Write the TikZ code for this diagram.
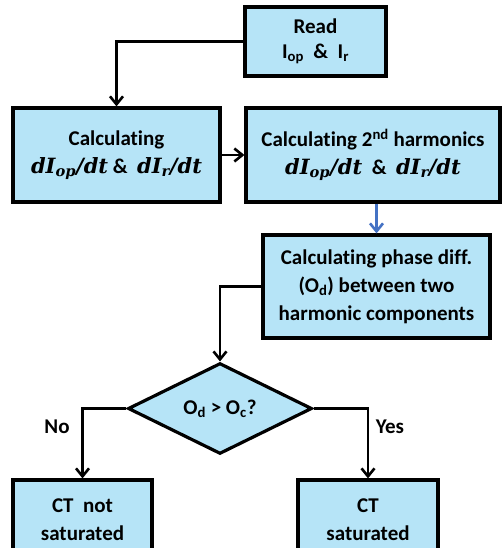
\documentclass[tikz,border=0pt]{standalone}
\usepackage{fontspec}
\setmainfont{Carlito}[Ligatures=NoCommon]
\newfontfamily\mfont{DejaVu Serif}
\usetikzlibrary{shapes.geometric,arrows.meta}
\definecolor{boxfill}{RGB}{182,228,247}
\definecolor{bluearrow}{RGB}{68,114,196}
\newcommand{\bigmath}[1]{{\fontsize{21}{28}\mfont\bfseries\itshape #1}}
\tikzset{
  stepbox/.style={draw=black, line width=3.2pt, fill=boxfill, align=center, inner sep=2pt,
    font=\fontsize{21}{28}\selectfont\bfseries},
  decision/.style={draw=black, line width=3.2pt, fill=boxfill, diamond, align=center, inner sep=0pt,
    font=\fontsize{21}{28}\selectfont\bfseries},
  arr/.style={line width=2.6pt, -{Straight Barb[length=8pt,width=13pt,line width=2.6pt]}},
  lbl/.style={font=\fontsize{21}{24}\selectfont\bfseries}
}
\begin{document}
\begin{tikzpicture}[x=1pt,y=-1pt]
\useasboundingbox (0,0) rectangle (502,548);
\clip (0,0) rectangle (502,548);
\node[stepbox, minimum width=141pt, minimum height=69pt, font=\fontsize{21}{25}\selectfont\bfseries] (read) at (315.5,41.5) {Read\\I\textsubscript{op} \ \& \ I\textsubscript{r}};
\node[stepbox, minimum width=207pt, minimum height=94pt] (calc1) at (116.5,155) {Calculating\\\bigmath{dI\textsubscript{op}/dt} \& \ \bigmath{dI\textsubscript{r}/dt}};
\node[stepbox, minimum width=254pt, minimum height=94pt] (calc2) at (373,155) {Calculating 2\textsuperscript{nd} harmonics\\\bigmath{dI\textsubscript{op}/dt} \ \& \ \bigmath{dI\textsubscript{r}/dt}};
\node[stepbox, minimum width=227pt, minimum height=103pt] (phase) at (376.5,286.5) {Calculating phase diff.\\(O\textsubscript{d}) between two\\harmonic components};
\node[decision, minimum width=184pt, minimum height=79pt] (dec) at (220,408.5) {O\textsubscript{d} > O\textsubscript{c}?};
\node[stepbox, minimum width=139pt, minimum height=80pt] (notsat) at (82.5,520) {CT\ \ not\\saturated};
\node[stepbox, minimum width=140pt, minimum height=80pt] (sat) at (368,520) {CT\\saturated};
\draw[arr] (read.west) -| (calc1.north);
\draw[arr] (calc1.east) -- (calc2.west);
\draw[arr, draw=bluearrow, -{Straight Barb[length=8pt,width=13pt,line width=2.6pt,color=bluearrow]}] (phase.north |- calc2.south) -- (phase.north);
\draw[arr] (phase.west) -| (dec.north);
\draw[arr] (dec.west) -| (notsat.north);
\draw[arr] (dec.east) -| (sat.north);
\node[lbl] (no) at (57,427) {No};
\node[lbl] (yes) at (390,427) {Yes};
\end{tikzpicture}
\end{document}
